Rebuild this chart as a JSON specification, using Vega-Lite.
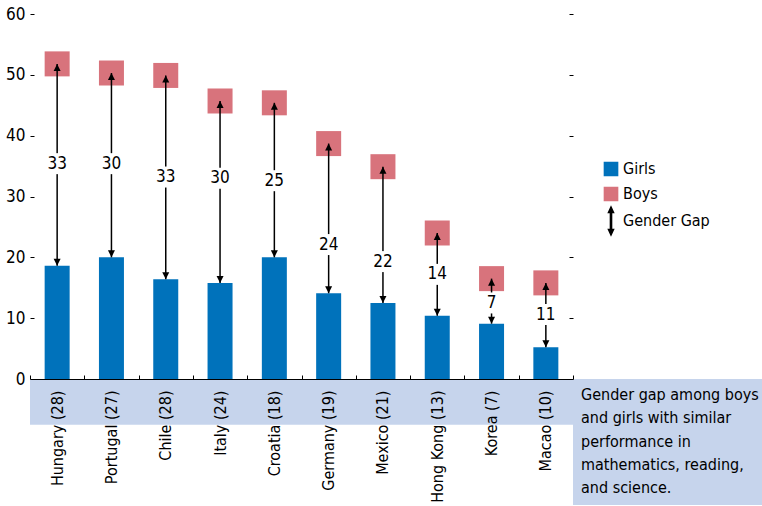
{
  "$schema": "https://vega.github.io/schema/vega-lite/v6.json",
  "autosize": {"type": "none"},
  "padding": {"left": 30, "top": 14, "right": 189, "bottom": 127},
  "width": 543,
  "height": 365,
  "background": "#ffffff",
  "config": {
    "font": "DejaVu Sans Condensed, Roboto, sans-serif",
    "view": {"stroke": null}
  },
  "data": {
    "values": [
      {"country": "Hungary", "label": "Hungary (28)", "girls": 18.6, "boys": 51.8, "gap": "33", "labelPos": 35.4},
      {"country": "Portugal", "label": "Portugal (27)", "girls": 20.0, "boys": 50.3, "gap": "30", "labelPos": 35.4},
      {"country": "Chile", "label": "Chile (28)", "girls": 16.4, "boys": 49.9, "gap": "33", "labelPos": 33.2},
      {"country": "Italy", "label": "Italy (24)", "girls": 15.8, "boys": 45.7, "gap": "30", "labelPos": 33.0},
      {"country": "Croatia", "label": "Croatia (18)", "girls": 20.0, "boys": 45.4, "gap": "25", "labelPos": 32.6},
      {"country": "Germany", "label": "Germany (19)", "girls": 14.1, "boys": 38.7, "gap": "24", "labelPos": 22.1},
      {"country": "Mexico", "label": "Mexico (21)", "girls": 12.5, "boys": 34.9, "gap": "22", "labelPos": 19.3},
      {"country": "Hong Kong", "label": "Hong Kong (13)", "girls": 10.4, "boys": 24.0, "gap": "14", "labelPos": 17.2},
      {"country": "Korea", "label": "Korea (7)", "girls": 9.1, "boys": 16.5, "gap": "7", "labelPos": 12.5},
      {"country": "Macao", "label": "Macao (10)", "girls": 5.2, "boys": 15.8, "gap": "11", "labelPos": 10.6}
    ]
  },
  "resolve": {"axis": {"y": "independent"}},
  "layer": [
    {
      "data": {"values": [{"note": "note"}]},
      "mark": {"type": "rect", "color": "#c6d4ec"},
      "encoding": {
        "y": {"datum": 0, "type": "quantitative", "axis": null},
        "y2": {"datum": -7.5},
        "opacity": {
          "datum": "note",
          "type": "ordinal",
          "scale": {"range": [1, 1]},
          "legend": {
            "orient": "none",
            "legendX": 543,
            "legendY": 365,
            "values": [],
            "title": ["Gender gap among boys", "and girls with similar", "performance in", "mathematics, reading,", "and science."],
            "fillColor": "#c6d4ec",
            "padding": 8,
            "titleFontSize": 16,
            "titleFontWeight": "normal",
            "titleColor": "#000000",
            "titleLineHeight": 23.3,
            "titleLimit": 400,
            "titlePadding": 0
          }
        }
      }
    },
    {
      "mark": {"type": "bar", "size": 25},
      "encoding": {
        "x": {
          "field": "label",
          "type": "nominal",
          "sort": null,
          "scale": {"paddingInner": 0, "paddingOuter": 0},
          "axis": {
            "title": null,
            "labelAngle": -90,
            "labelAlign": "right",
            "labelBaseline": "middle",
            "labelFontSize": 16,
            "labelColor": "#000000",
            "labelPadding": 15,
            "labelLimit": 200,
            "tickSize": -4,
            "tickColor": "#000000",
            "tickBand": "extent",
            "domainColor": "#000000",
            "domainWidth": 1,
            "zindex": 2
          }
        },
        "y": {
          "field": "girls",
          "type": "quantitative",
          "scale": {"domain": [0, 60], "nice": false},
          "axis": {
            "title": null,
            "values": [0, 10, 20, 30, 40, 50, 60],
            "domain": false,
            "grid": false,
            "tickSize": -4,
            "tickColor": "#000000",
            "labelFontSize": 17,
            "labelColor": "#000000",
            "labelPadding": 9
          }
        },
        "color": {
          "datum": "Girls",
          "type": "nominal",
          "scale": {"domain": ["Girls", "Boys", "Gender Gap"], "range": ["#0072bb", "#d8737c", "#000000"]},
          "legend": {
            "orient": "none",
            "legendX": 566,
            "legendY": 140,
            "title": null,
            "labelFontSize": 16,
            "labelColor": "#000000",
            "labelOffset": -3,
            "symbolSize": 784,
            "rowPadding": 0,
            "encode": {
              "symbols": {
                "update": {
                  "shape": {"signal": "datum.value === 'Gender Gap' ? 'M0,-1 L0.18,-0.6 L0.04,-0.6 L0.04,0.6 L0.18,0.6 L0,1 L-0.18,0.6 L-0.04,0.6 L-0.04,-0.6 L-0.18,-0.6 Z' : 'M-0.47,-0.47 L0.47,-0.47 L0.47,0.47 L-0.47,0.47 Z'"},
                  "fill": {"signal": "datum.value === 'Girls' ? '#0072bb' : datum.value === 'Boys' ? '#d8737c' : '#000000'"},
                  "stroke": {"value": "transparent"},
                  "opacity": {"value": 1},
                  "fillOpacity": {"value": 1},
                  "size": {"value": 784}
                }
              }
            }
          }
        }
      }
    },
    {
      "mark": {"type": "point", "shape": "square", "size": 625, "filled": true, "opacity": 1},
      "encoding": {
        "x": {"field": "label", "type": "nominal", "sort": null},
        "y": {
          "field": "boys",
          "type": "quantitative",
          "axis": {
            "orient": "right",
            "title": null,
            "labels": false,
            "domain": false,
            "grid": false,
            "values": [0, 10, 20, 30, 40, 50, 60],
            "tickSize": -4,
            "tickColor": "#000000"
          }
        },
        "color": {"datum": "Boys", "type": "nominal"}
      }
    },
    {
      "mark": {"type": "rule", "strokeWidth": 1.5},
      "encoding": {
        "x": {"field": "label", "type": "nominal", "sort": null},
        "y": {"field": "girls", "type": "quantitative", "axis": null},
        "y2": {"field": "boys"},
        "color": {"datum": "Gender Gap", "type": "nominal"}
      }
    },
    {
      "mark": {"type": "point", "shape": "M0,0 L-0.5,1 L0.5,1 Z", "size": 196, "filled": true, "opacity": 1, "color": "#000000"},
      "encoding": {
        "x": {"field": "label", "type": "nominal", "sort": null},
        "y": {"field": "boys", "type": "quantitative", "axis": null}
      }
    },
    {
      "mark": {"type": "point", "shape": "M0,0 L-0.5,-1 L0.5,-1 Z", "size": 196, "filled": true, "opacity": 1, "color": "#000000"},
      "encoding": {
        "x": {"field": "label", "type": "nominal", "sort": null},
        "y": {"field": "girls", "type": "quantitative", "axis": null}
      }
    },
    {
      "mark": {"type": "point", "shape": "M-0.3,-1 L0.3,-1 L0.3,1 L-0.3,1 Z", "size": 441, "filled": true, "opacity": 1, "color": "#ffffff"},
      "encoding": {
        "x": {"field": "label", "type": "nominal", "sort": null},
        "y": {"field": "labelPos", "type": "quantitative", "axis": null}
      }
    },
    {
      "mark": {"type": "text", "fontSize": 17, "color": "#000000", "baseline": "middle", "align": "center"},
      "encoding": {
        "x": {"field": "label", "type": "nominal", "sort": null},
        "y": {"field": "labelPos", "type": "quantitative", "axis": null},
        "text": {"field": "gap"}
      }
    }
  ]
}
